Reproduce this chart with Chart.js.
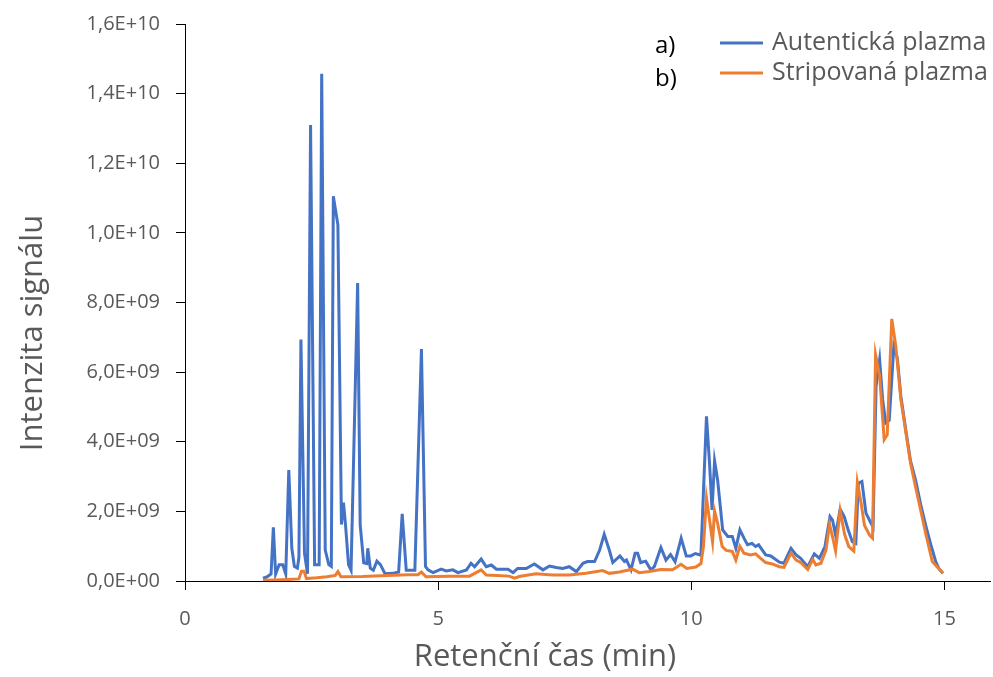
<!DOCTYPE html>
<html><head><meta charset="utf-8">
<script src="https://cdn.jsdelivr.net/npm/chart.js@4.4.1/dist/chart.umd.min.js"></script>
<style>html,body{margin:0;padding:0;background:#fff;overflow:hidden}#wrap{position:relative;width:993px;height:677px}</style>
</head><body><div id="wrap"><canvas id="c" width="993" height="677"></canvas></div>
<script>
// Series names and tags
const seriesNames = ['Autentická plazma', 'Stripovaná plazma'];
const seriesTags = ['a)', 'b)'];
const xTitle = 'Retenční čas (min)';
const yTitle = 'Intenzita signálu';

// Autentická plazma: retention time (min) and intensity (units of 1E+09)
const timeA = [1.54,1.62,1.70,1.745,1.79,1.86,1.93,1.99,2.05,2.11,2.16,2.22,2.25,2.29,2.36,2.42,2.48,2.56,2.65,2.70,2.77,2.84,2.89,2.93,3.02,3.09,3.13,3.17,3.23,3.28,3.41,3.46,3.53,3.59,3.61,3.66,3.72,3.79,3.86,3.95,4.10,4.22,4.29,4.37,4.54,4.67,4.75,4.80,4.90,5.06,5.16,5.29,5.39,5.56,5.65,5.72,5.85,5.95,6.05,6.15,6.28,6.38,6.48,6.57,6.74,6.90,7.07,7.20,7.33,7.46,7.59,7.73,7.86,7.95,8.09,8.19,8.28,8.38,8.45,8.59,8.68,8.72,8.81,8.89,8.94,9.00,9.10,9.20,9.27,9.40,9.50,9.59,9.68,9.80,9.90,9.99,10.08,10.19,10.30,10.36,10.41,10.46,10.52,10.62,10.72,10.81,10.88,10.96,11.04,11.11,11.20,11.27,11.33,11.47,11.57,11.74,11.83,11.97,12.07,12.16,12.30,12.43,12.53,12.64,12.74,12.79,12.85,12.94,13.02,13.09,13.18,13.25,13.30,13.37,13.45,13.55,13.59,13.65,13.72,13.78,13.84,13.91,14.00,14.07,14.14,14.24,14.33,14.43,14.53,14.63,14.73,14.83,14.89,14.97];
const valA = [0.08,0.12,0.20,1.54,0.20,0.47,0.47,0.20,3.19,0.94,0.42,0.37,0.68,6.94,0.80,0.21,13.10,0.47,0.47,14.57,0.89,0.47,0.42,11.05,10.23,1.62,2.25,1.62,0.47,0.31,8.56,1.62,0.52,0.50,0.94,0.37,0.31,0.57,0.47,0.21,0.22,0.26,1.93,0.31,0.31,6.66,0.42,0.32,0.24,0.34,0.29,0.32,0.24,0.32,0.51,0.41,0.63,0.41,0.46,0.34,0.34,0.34,0.24,0.36,0.36,0.49,0.32,0.43,0.39,0.36,0.41,0.27,0.51,0.56,0.56,0.89,1.34,0.89,0.53,0.72,0.56,0.60,0.32,0.80,0.80,0.53,0.57,0.32,0.41,0.96,0.60,0.76,0.55,1.23,0.72,0.72,0.79,0.74,4.73,3.39,2.04,3.45,2.90,1.47,1.28,1.28,0.94,1.47,1.23,1.04,1.08,0.99,1.04,0.75,0.72,0.54,0.51,0.94,0.75,0.65,0.41,0.78,0.65,0.99,1.85,1.75,1.32,2.06,1.85,1.51,1.13,1.08,2.81,2.86,1.95,1.66,1.56,5.60,6.36,5.20,4.54,4.62,6.74,6.40,5.30,4.30,3.45,2.90,2.20,1.60,1.05,0.55,0.36,0.22];

// Stripovaná plazma: retention time (min) and intensity (units of 1E+09)
const timeS = [1.54,1.80,2.00,2.25,2.30,2.35,2.40,2.60,2.80,2.97,3.02,3.08,3.50,4.00,4.40,4.60,4.67,4.76,5.20,5.62,5.85,5.95,6.40,6.51,6.60,6.93,7.26,7.59,7.92,8.25,8.38,8.58,8.84,8.97,9.17,9.40,9.63,9.80,9.91,10.09,10.19,10.24,10.30,10.37,10.42,10.46,10.52,10.61,10.69,10.81,10.88,10.96,11.04,11.17,11.27,11.37,11.47,11.60,11.74,11.83,11.97,12.07,12.16,12.30,12.40,12.46,12.56,12.66,12.73,12.79,12.85,12.94,13.03,13.11,13.21,13.28,13.35,13.42,13.52,13.58,13.64,13.72,13.81,13.87,13.96,14.04,14.14,14.24,14.33,14.43,14.53,14.63,14.76,14.88,14.97];
const valS = [0.02,0.03,0.04,0.06,0.28,0.28,0.07,0.09,0.12,0.16,0.27,0.12,0.13,0.16,0.18,0.18,0.26,0.12,0.14,0.14,0.32,0.17,0.14,0.08,0.13,0.21,0.17,0.17,0.22,0.30,0.22,0.26,0.34,0.24,0.27,0.33,0.32,0.48,0.36,0.40,0.50,0.99,2.38,1.66,1.13,2.01,1.66,0.99,0.88,0.85,0.60,1.00,0.80,0.75,0.78,0.65,0.53,0.49,0.41,0.39,0.80,0.60,0.53,0.33,0.62,0.46,0.51,0.89,1.63,1.27,0.87,2.02,1.33,0.99,0.86,2.83,2.28,1.60,1.32,1.23,6.50,5.90,4.06,4.20,7.53,6.74,5.21,4.25,3.39,2.70,2.04,1.37,0.56,0.37,0.22];

// Axis ticks
const xTicks = [0, 5, 10, 15];
const yTicks = [0, 2e9, 4e9, 6e9, 8e9, 1e10, 1.2e10, 1.4e10, 1.6e10];
const yTickLabels = ['0,0E+00','2,0E+09','4,0E+09','6,0E+09','8,0E+09','1,0E+10','1,2E+10','1,4E+10','1,6E+10'];

const colors = ['#4472C4', '#ED7D31'];
const FONT = "'Open Sans', sans-serif";

function pts(t, v) { return t.map((x, i) => ({ x: x, y: v[i] * 1e9 })); }

const annotPlugin = {
  id: 'customLegendTitles',
  afterDraw(chart) {
    const ctx = chart.ctx;
    ctx.save();
    const rows = [43, 73];
    const tagRows = [46, 79];
    ctx.textBaseline = 'middle';
    ctx.textAlign = 'left';
    for (let i = 0; i < 2; i++) {
      ctx.fillStyle = '#000';
      ctx.font = "24px " + FONT;
      ctx.fillText(seriesTags[i], 655, tagRows[i]);
      ctx.strokeStyle = colors[i];
      ctx.lineWidth = 3;
      ctx.beginPath();
      ctx.moveTo(720, rows[i]);
      ctx.lineTo(763, rows[i]);
      ctx.stroke();
      ctx.fillStyle = '#595959';
      ctx.font = "25px " + FONT;
      ctx.fillText(seriesNames[i], 772, rows[i]);
    }
    // axis titles
    ctx.fillStyle = '#595959';
    ctx.font = "31px " + FONT;
    ctx.textAlign = 'center';
    ctx.fillText(xTitle, 545, 657);
    ctx.translate(33, 333);
    ctx.rotate(-Math.PI / 2);
    ctx.fillText(yTitle, 0, 0);
    ctx.restore();
  }
};

new Chart(document.getElementById('c'), {
  type: 'line',
  data: {
    datasets: [
      { label: seriesNames[0], data: pts(timeA, valA), borderColor: colors[0], backgroundColor: colors[0], borderWidth: 3, pointRadius: 0, tension: 0, order: 1 },
      { label: seriesNames[1], data: pts(timeS, valS), borderColor: colors[1], backgroundColor: colors[1], borderWidth: 3, pointRadius: 0, tension: 0, order: 0 }
    ]
  },
  options: {
    responsive: false,
    animation: false,
    devicePixelRatio: 1,
    layout: { padding: { top: 24, right: 3, left: 0, bottom: 0 } },
    plugins: { legend: { display: false }, tooltip: { enabled: false } },
    scales: {
      x: {
        type: 'linear', min: 0, max: 15.9,
        afterBuildTicks: s => { s.ticks = xTicks.map(v => ({ value: v })); },
        afterFit: s => { s.height = 96; s.paddingLeft = 0; s.paddingRight = 0; },
        grid: { display: true, drawOnChartArea: false, drawTicks: true, tickLength: 9, color: '#000' },
        border: { display: true, color: '#000', width: 1 },
        ticks: { color: '#595959', font: { family: FONT, size: 20 }, padding: 17, maxRotation: 0 },
        title: { display: false }
      },
      y: {
        type: 'linear', min: 0, max: 1.6e10,
        afterBuildTicks: s => { s.ticks = yTicks.map(v => ({ value: v })); },
        afterFit: s => { s.width = 185; s.paddingTop = 0; s.paddingBottom = 0; },
        grid: { display: true, drawOnChartArea: false, drawTicks: true, tickLength: 9, color: '#000' },
        border: { display: true, color: '#000', width: 1 },
        ticks: { color: '#595959', font: { family: FONT, size: 20 }, padding: 16, callback: (v) => yTickLabels[yTicks.indexOf(v)] },
        title: { display: false }
      }
    }
  },
  plugins: [annotPlugin]
});
</script></body></html>
